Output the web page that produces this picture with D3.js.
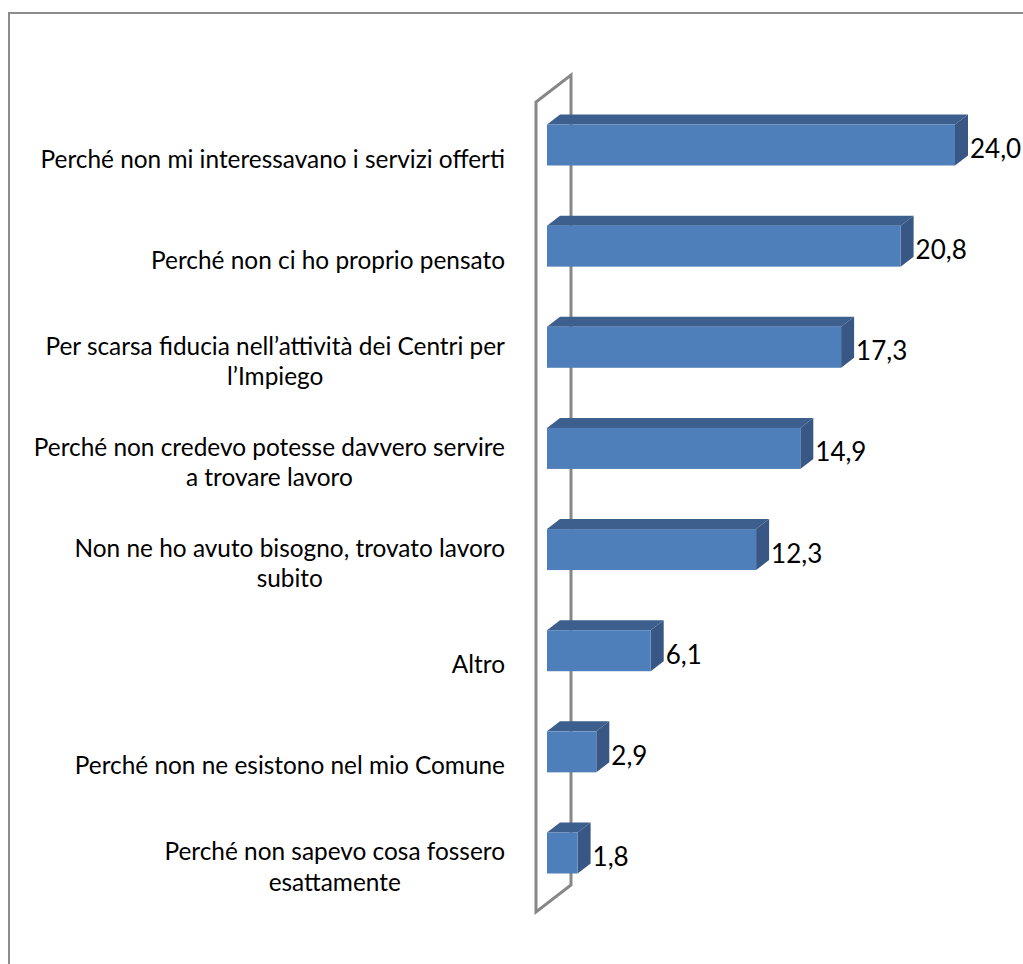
<!DOCTYPE html>
<html>
<head>
<meta charset="utf-8">
<script src="https://cdn.jsdelivr.net/npm/d3@7"></script>
<style>
  html, body { margin: 0; padding: 0; background: #fff; }
  svg { display: block; }
  text { font-family: Lato, "Open Sans", sans-serif; fill: #000; }
</style>
</head>
<body>
<div id="chart"></div>
<script>
// Motivi per cui non ci si è rivolti ai Centri per l'Impiego (%)
const categories = [
  ["Perché non mi interessavano i servizi offerti"],
  ["Perché non ci ho proprio pensato"],
  ["Per scarsa fiducia nell\u2019attività dei Centri per", "l\u2019Impiego"],
  ["Perché non credevo potesse davvero servire", "a trovare lavoro"],
  ["Non ne ho avuto bisogno, trovato lavoro", "subito"],
  ["Altro"],
  ["Perché non ne esistono nel mio Comune"],
  ["Perché non sapevo cosa fossero", "esattamente"]
];
const values = [24.0, 20.8, 17.3, 14.9, 12.3, 6.1, 2.9, 1.8];
const valueLabels = ["24,0", "20,8", "17,3", "14,9", "12,3", "6,1", "2,9", "1,8"];

const W = 1023, H = 964;
const svg = d3.select("#chart").append("svg").attr("width", W).attr("height", H);

// outer chart-area border
svg.append("rect")
  .attr("x", 9).attr("y", 13).attr("width", W + 20).attr("height", H + 20)
  .attr("fill", "none").attr("stroke", "#8c8c8c").attr("stroke-width", 2);

const ids = d3.range(categories.length);
const x = d3.scaleLinear().domain([0, 24]).range([547, 955]);
const y = d3.scalePoint().domain(ids).range([145, 853]);

const barH = 41;
const dx = 13, dy = -10;          // bar depth
const wdx = 35, wdy = -27;        // wall depth

// side wall (outline only)
const wallX = 536, wallTop = 102, wallBot = 912;
svg.append("path")
  .attr("d", `M${wallX},${wallBot} L${wallX},${wallTop} L${wallX + wdx},${wallTop + wdy} L${wallX + wdx},${wallBot + wdy} Z`)
  .attr("fill", "none").attr("stroke", "#878787").attr("stroke-width", 3)
  .attr("stroke-linejoin", "miter");

const bars = svg.append("g").selectAll("g").data(ids).join("g");

// top face
bars.append("path")
  .attr("d", i => {
    const x0 = x(0), x1 = x(values[i]), t = y(i) - barH / 2;
    return `M${x0},${t} L${x0 + dx},${t + dy} L${x1 + dx},${t + dy} L${x1},${t} Z`;
  })
  .attr("fill", "#3d5f8e");

// side face
bars.append("path")
  .attr("d", i => {
    const x1 = x(values[i]), t = y(i) - barH / 2, b = y(i) + barH / 2;
    return `M${x1},${t} L${x1 + dx},${t + dy} L${x1 + dx},${b + dy} L${x1},${b} Z`;
  })
  .attr("fill", "#385784");

// front face
bars.append("rect")
  .attr("x", x(0))
  .attr("y", i => y(i) - barH / 2)
  .attr("width", i => x(values[i]) - x(0))
  .attr("height", barH)
  .attr("fill", "#4f7fba");

// value labels
svg.append("g").selectAll("text").data(ids).join("text")
  .attr("x", i => x(values[i]) + dx + 2)
  .attr("y", i => y(i) + 3)
  .attr("dominant-baseline", "central")
  .attr("font-size", 26)
  .text(i => valueLabels[i]);

// category labels (block right-aligned, lines centred)
const catFont = 24.4, lineH = 30.5, labelRight = 505;
const cat = svg.append("g").selectAll("g").data(ids).join("g")
  .attr("transform", i => `translate(0,${y(i) + 13})`);

cat.each(function (i) {
  const lines = categories[i];
  const g = d3.select(this);
  const texts = g.selectAll("text").data(lines).join("text")
    .attr("font-size", catFont)
    .attr("dominant-baseline", "central")
    .attr("text-anchor", "middle")
    .attr("y", (d, k) => (k - (lines.length - 1) / 2) * lineH)
    .text(d => d);
  const maxW = d3.max(texts.nodes(), n => n.getComputedTextLength());
  texts.attr("x", labelRight - maxW / 2);
});
</script>
</body>
</html>
